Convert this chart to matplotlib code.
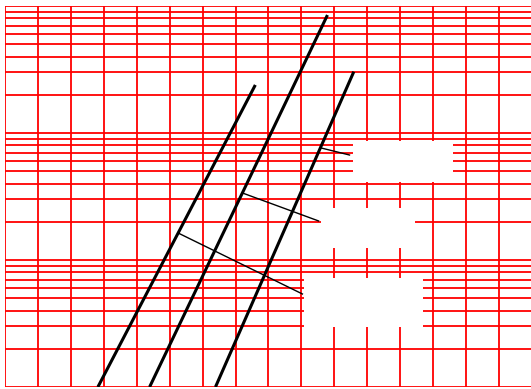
import matplotlib
matplotlib.use("Agg")
import matplotlib.pyplot as plt
from matplotlib.patches import Rectangle
from matplotlib.ticker import MultipleLocator, LogLocator, NullFormatter

# --- data ---
x_range = [0, 15.97]
y_range = [1, 1000]

# three straight lines on the semi-log grid: (x_start, y_start) -> (x_end, y_end)
line_x = [[2.82, 7.60], [4.39, 9.79], [6.39, 10.59]]
line_y = [[1.0, 239.0], [1.0, 849.0], [1.0, 304.0]]

# leader lines from a curve to a (blank) label box
leader_x = [[9.60, 10.46], [7.21, 9.52], [5.26, 9.03]]
leader_y = [[76.2, 67.1], [33.7, 20.3], [16.3, 5.40]]

# label boxes (blank, white)
box_x0 = [10.56, 9.58, 9.09]
box_x1 = [13.60, 12.44, 12.68]
box_y0 = [41.1, 12.4, 2.97]
box_y1 = [86.5, 25.7, 7.22]

fig = plt.figure(figsize=(5.31, 3.89), dpi=100)
ax = fig.add_axes([5 / 531, 2 / 389, 526 / 531, 381 / 389])
ax.set_yscale("log")
ax.set_xlim(*x_range)
ax.set_ylim(*y_range)

ax.xaxis.set_major_locator(MultipleLocator(1))
ax.yaxis.set_major_locator(LogLocator(base=10))
ax.yaxis.set_minor_locator(LogLocator(base=10, subs=range(2, 10)))
ax.grid(True, which="both", color="red", linewidth=1.3)
ax.set_axisbelow(True)
ax.tick_params(which="both", length=0, labelleft=False, labelbottom=False)
ax.yaxis.set_minor_formatter(NullFormatter())
for s in ax.spines.values():
    s.set_visible(False)

for xs, ys in zip(line_x, line_y):
    ax.plot(xs, ys, color="black", linewidth=2.2, solid_capstyle="butt", zorder=3)

for xs, ys in zip(leader_x, leader_y):
    ax.plot(xs, ys, color="black", linewidth=1.0, zorder=3)

for x0, x1, y0, y1 in zip(box_x0, box_x1, box_y0, box_y1):
    ax.add_patch(Rectangle((x0, y0), x1 - x0, y1 - y0, facecolor="white",
                           edgecolor="none", zorder=2.5))

fig.savefig("out.png", dpi=100)
